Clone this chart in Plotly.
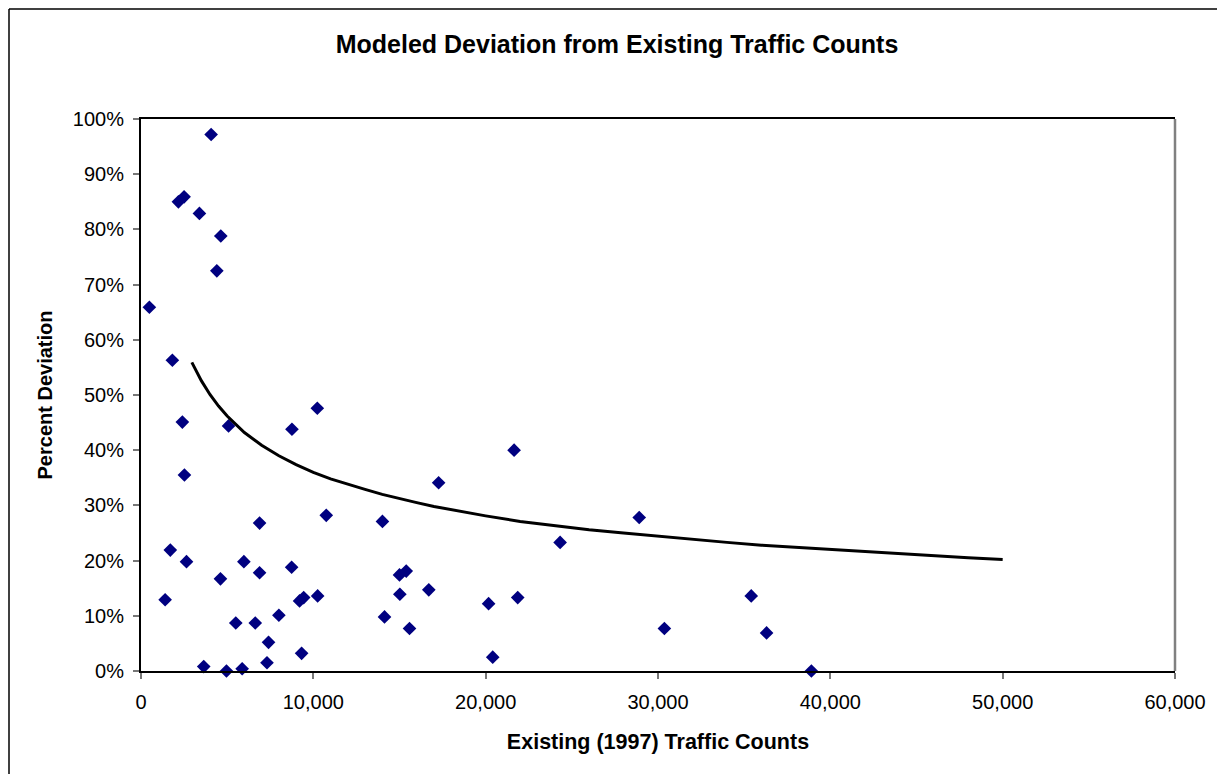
import plotly.graph_objects as go

# Observed points: existing (1997) traffic counts vs percent deviation
counts = [485, 1400, 1700, 1820, 2170, 2400, 2500, 2520, 2640, 3390, 3640, 4070, 4400,
          4610, 4630, 4960, 5080, 5500, 5870, 5970, 6630, 6880, 6880, 7310, 7400, 8000,
          8740, 8760, 9200, 9320, 9440, 10230, 10250, 10750, 14010, 14130, 15000, 15020,
          15390, 15580, 16700, 17270, 20170, 20410, 21650, 21860, 24320, 28910, 30370,
          35410, 36300, 38900]
deviation = [0.659, 0.129, 0.219, 0.563, 0.850, 0.451, 0.859, 0.355, 0.198, 0.829, 0.008,
             0.972, 0.725, 0.167, 0.788, 0.000, 0.444, 0.087, 0.004, 0.198, 0.087, 0.268,
             0.178, 0.015, 0.052, 0.101, 0.188, 0.438, 0.127, 0.032, 0.133, 0.476, 0.136,
             0.282, 0.271, 0.098, 0.174, 0.139, 0.181, 0.077, 0.147, 0.341, 0.122, 0.025,
             0.400, 0.133, 0.233, 0.278, 0.077, 0.136, 0.069, 0.000]

# Modeled deviation curve
curve_x = [2950, 3500, 4000, 4500, 5000, 6000, 7000, 8000, 9000, 10000, 11000, 12000,
           13000, 14000, 15000, 16000, 17000, 18000, 20000, 22000, 24000, 26000, 28000,
           30000, 32000, 34000, 36000, 38000, 40000, 42000, 44000, 46000, 48000, 50000]
curve_y = [0.559, 0.526, 0.501, 0.480, 0.462, 0.432, 0.409, 0.390, 0.374, 0.360, 0.348,
           0.338, 0.329, 0.320, 0.312, 0.305, 0.298, 0.292, 0.281, 0.271, 0.263, 0.256,
           0.250, 0.244, 0.238, 0.233, 0.228, 0.224, 0.220, 0.216, 0.212, 0.208, 0.205,
           0.202]

x_ticks = [0, 10000, 20000, 30000, 40000, 50000, 60000]
y_ticks = [0, 0.1, 0.2, 0.3, 0.4, 0.5, 0.6, 0.7, 0.8, 0.9, 1.0]

# page body has an 8px margin, so the figure is offset by 8px (and kept
# small enough that the page does not overflow the window)
OFF = 8
W, H = 1225 - 2 * OFF, 782 - 2 * OFF
L, R, T, B = 141 - OFF, 1175 - OFF, 119 - OFF, 671 - OFF

fig = go.Figure()
fig.add_trace(go.Scatter(x=counts, y=deviation, mode="markers",
                         marker=dict(symbol="diamond", size=10.5, color="#000080",
                                     line=dict(width=0)),
                         showlegend=False, cliponaxis=False))
fig.add_trace(go.Scatter(x=curve_x, y=curve_y, mode="lines",
                         line=dict(color="black", width=3), showlegend=False))

font = "Arial, 'Liberation Sans', sans-serif"

def px_x(p):
    return (p - OFF - L) / (R - L)

def px_y(p):
    return (B - (p - OFF)) / (B - T)

fig.update_layout(
    width=W, height=H,
    margin=dict(l=L, r=W - R, t=T, b=H - B, pad=0),
    paper_bgcolor="white", plot_bgcolor="white",
    font=dict(family=font, size=20, color="black"),
    title=dict(text="<b>Modeled Deviation from Existing Traffic Counts</b>",
               x=px_x(617), xref="paper", xanchor="center",
               y=1 - (44 - OFF) / H, yref="container", yanchor="middle",
               font=dict(family=font, size=25, color="black")),
    xaxis=dict(range=[0, 60000], tickvals=x_ticks, tickformat=",d",
               showgrid=False, zeroline=False,
               showline=True, linecolor="black", linewidth=2, mirror=True,
               ticks="outside", ticklen=6, tickcolor="#777", tickwidth=1.5,
               ticklabelstandoff=6,
               title=dict(text="<b>Existing (1997) Traffic Counts</b>",
                          font=dict(family=font, size=21.5), standoff=22)),
    yaxis=dict(range=[0, 1.0], tickvals=y_ticks, tickformat=".0%",
               showgrid=False, zeroline=False,
               showline=True, linecolor="black", linewidth=2,
               ticks="outside", ticklen=6, tickcolor="#777", tickwidth=1.5,
               ticklabelstandoff=5,
               title=dict(text="<b>Percent Deviation</b>",
                          font=dict(family=font, size=20), standoff=15)),
    shapes=[
        # right border of plot area (gray)
        dict(type="line", xref="paper", yref="paper", x0=1, x1=1, y0=0, y1=1,
             line=dict(color="#808080", width=2.5)),
        # outer chart border: left and top edges only (others run off the page)
        dict(type="line", xref="paper", yref="paper",
             x0=px_x(9), x1=px_x(9), y0=px_y(782), y1=px_y(9),
             line=dict(color="black", width=1.5), layer="below"),
        dict(type="line", xref="paper", yref="paper",
             x0=px_x(9), x1=px_x(1225), y0=px_y(9), y1=px_y(9),
             line=dict(color="black", width=1.5), layer="below"),
    ],
)

fig.write_html("out.html")
